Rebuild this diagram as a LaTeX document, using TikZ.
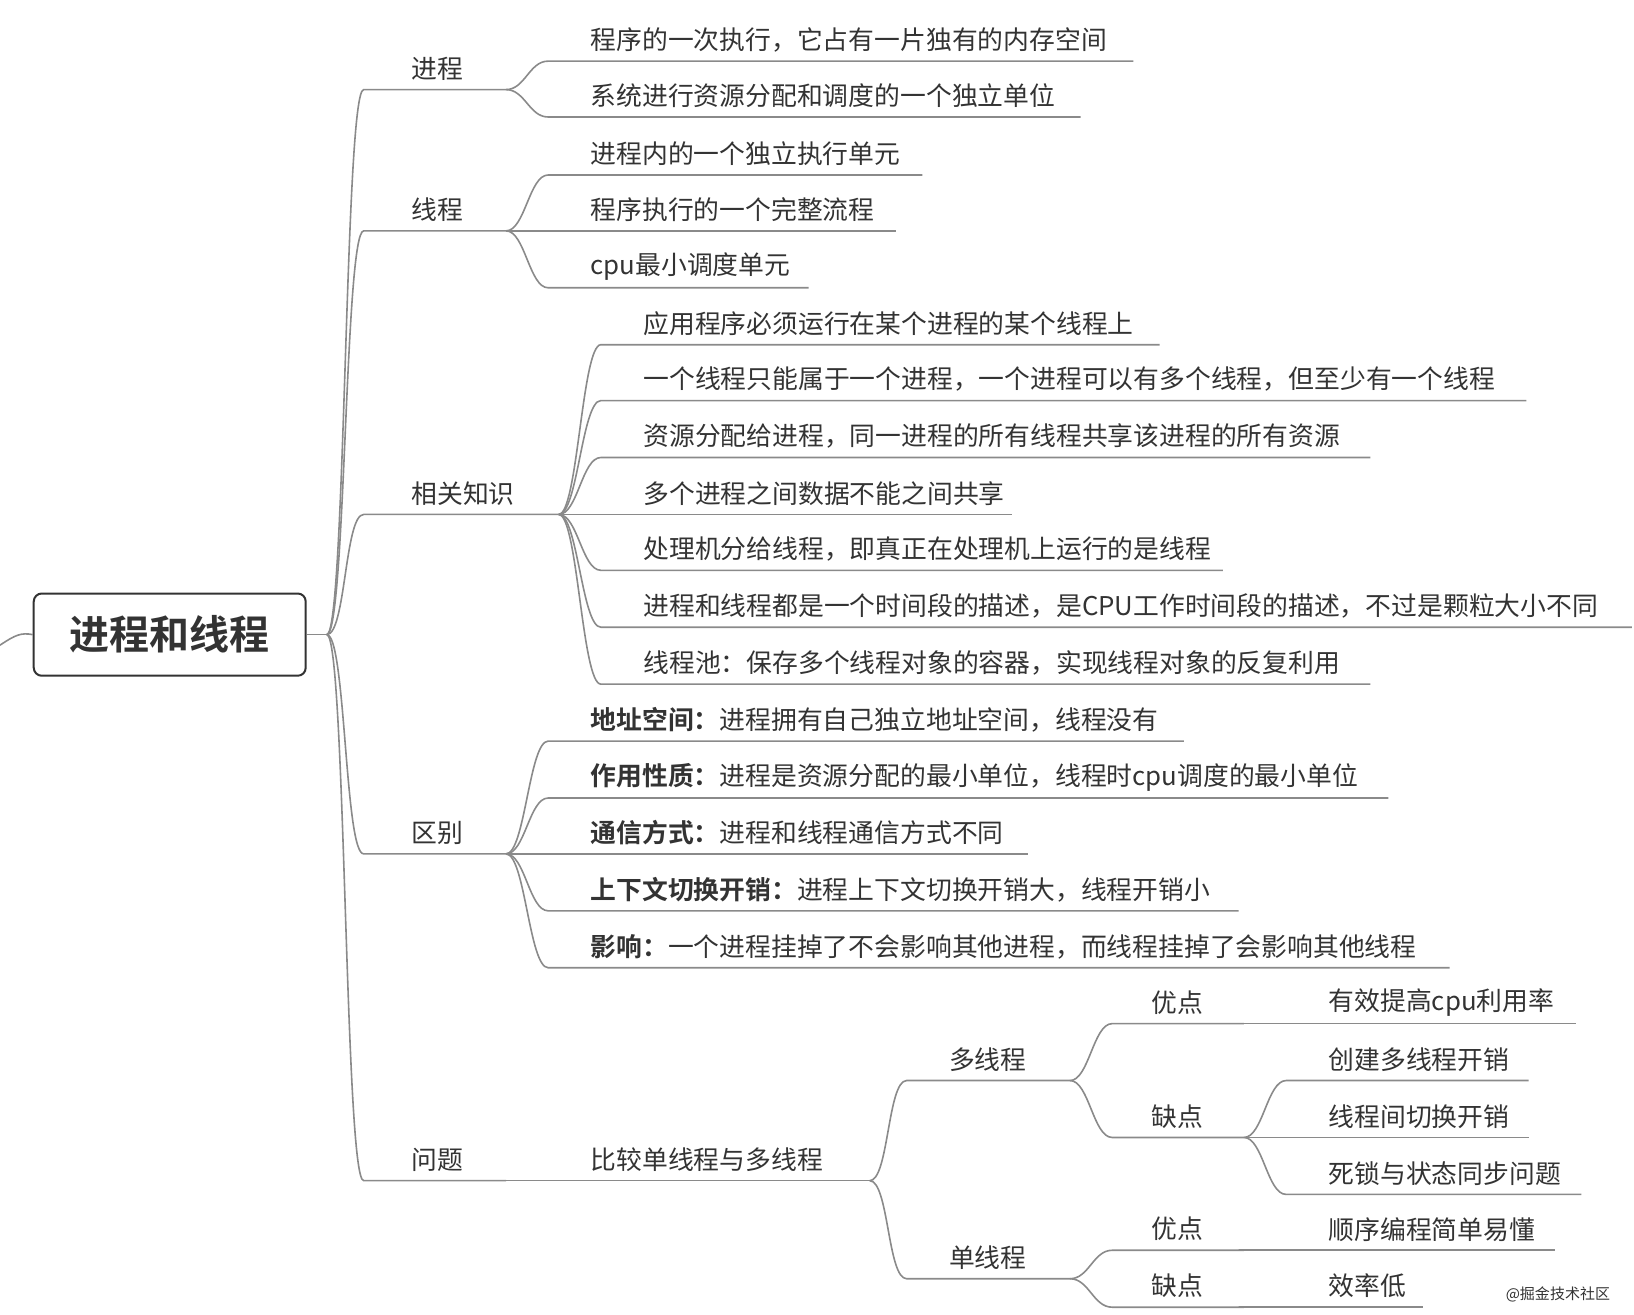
\documentclass[tikz,border=0pt]{standalone}
\usepackage{fontspec}
\setmainfont{Noto Sans CJK SC}[BoldFont={Noto Sans CJK SC Bold}]
\definecolor{linegray}{HTML}{8A8A8A}
\definecolor{textgray}{HTML}{333333}
\tikzset{
  branch/.style={draw=linegray,line width=0.8pt},
  leaf text/.style={anchor=west,inner sep=0pt,text=textgray,font=\fontsize{12.9}{15}\selectfont},
  root box/.style={draw=textgray,line width=1pt,rounded corners=4pt,minimum width=258*0.527pt,
                   minimum height=78*0.527pt,font=\fontsize{20}{22}\selectfont\bfseries,text=textgray}
}
% \leaf{name}{parent}{underline start}{text x}{underline end}{underline y}{text}
\newcommand{\leaf}[7]{%
  \coordinate (#1-s) at (#3,#6);
  \coordinate (#1-e) at (#5,#6);
  \node[leaf text] (#1-t) at (#4,#6-20) {#7};
  \draw[branch] (#2-e) .. controls +(18,0) and +(-18,0) .. (#1-s) -- (#1-e);
}
\begin{document}
\begin{tikzpicture}[x=0.527pt,y=-0.527pt]
  \useasboundingbox (0,0) rectangle (1550,1247);
  \node[root box] (root) at (161,602) {进程和线程};
  \coordinate (lead) at (0,612);
  \draw[branch] (lead) .. controls (15,602) and (20,600) .. (root.west);
  \coordinate (hub-e) at (310,602);
  \draw[branch] (root.east) -- (hub-e);

  \leaf{jc}{hub}{345}{390}{480}{85}{进程}
  \leaf{jc1}{jc}{520}{560}{1075}{58}{程序的一次执行，它占有一片独有的内存空间}
  \leaf{jc2}{jc}{520}{560}{1025}{111}{系统进行资源分配和调度的一个独立单位}

  \leaf{xc}{hub}{345}{390}{480}{219}{线程}
  \leaf{xc1}{xc}{520}{560}{875}{166}{进程内的一个独立执行单元}
  \leaf{xc2}{xc}{520}{560}{850}{219}{程序执行的一个完整流程}
  \leaf{xc3}{xc}{520}{560}{767}{273}{cpu最小调度单元}

  \leaf{zs}{hub}{345}{390}{530}{488}{相关知识}
  \leaf{zs1}{zs}{570}{610}{1100}{327}{应用程序必须运行在某个进程的某个线程上}
  \leaf{zs2}{zs}{570}{610}{1448}{380}{一个线程只能属于一个进程，一个进程可以有多个线程，但至少有一个线程}
  \leaf{zs3}{zs}{570}{610}{1300}{434}{资源分配给进程，同一进程的所有线程共享该进程的所有资源}
  \leaf{zs4}{zs}{570}{610}{960}{488}{多个进程之间数据不能之间共享}
  \leaf{zs5}{zs}{570}{610}{1160}{541}{处理机分给线程，即真正在处理机上运行的是线程}
  \leaf{zs6}{zs}{570}{610}{1548}{595}{进程和线程都是一个时间段的描述，是CPU工作时间段的描述，不过是颗粒大小不同}
  \leaf{zs7}{zs}{570}{610}{1300}{649}{线程池：保存多个线程对象的容器，实现线程对象的反复利用}

  \leaf{qb}{hub}{345}{390}{480}{810}{区别}
  \leaf{qb1}{qb}{520}{560}{1123}{703}{\textbf{地址空间：}进程拥有自己独立地址空间，线程没有}
  \leaf{qb2}{qb}{520}{560}{1317}{757}{\textbf{作用性质：}进程是资源分配的最小单位，线程时cpu调度的最小单位}
  \leaf{qb3}{qb}{520}{560}{975}{810}{\textbf{通信方式：}进程和线程通信方式不同}
  \leaf{qb4}{qb}{520}{560}{1175}{864}{\textbf{上下文切换开销：}进程上下文切换开销大，线程开销小}
  \leaf{qb5}{qb}{520}{560}{1375}{918}{\textbf{影响：}一个进程挂掉了不会影响其他进程，而线程挂掉了会影响其他线程}

  \leaf{wt}{hub}{345}{390}{480}{1120}{问题}
  \leaf{bj}{wt}{480}{560}{825}{1120}{比较单线程与多线程}
  \leaf{dx}{bj}{860}{900}{1015}{1025}{多线程}
  \leaf{dxy}{dx}{1055}{1092}{1180}{971}{优点}
  \leaf{dxy1}{dxy}{1180}{1260}{1495}{971}{有效提高cpu利用率}
  \leaf{dxq}{dx}{1055}{1092}{1180}{1079}{缺点}
  \leaf{dxq1}{dxq}{1220}{1260}{1450}{1025}{创建多线程开销}
  \leaf{dxq2}{dxq}{1220}{1260}{1450}{1079}{线程间切换开销}
  \leaf{dxq3}{dxq}{1220}{1260}{1500}{1133}{死锁与状态同步问题}
  \leaf{dan}{bj}{860}{900}{1015}{1213}{单线程}
  \leaf{dny}{dan}{1055}{1092}{1180}{1186}{优点}
  \leaf{dny1}{dny}{1180}{1260}{1475}{1186}{顺序编程简单易懂}
  \leaf{dnq}{dan}{1055}{1092}{1180}{1240}{缺点}
  \leaf{dnq1}{dnq}{1180}{1260}{1350}{1240}{效率低}

  \node[anchor=west,inner sep=0pt,font=\fontsize{7.5}{8}\selectfont,text=textgray] (mark) at (1428,1228) {@掘金技术社区};
\end{tikzpicture}
\end{document}
